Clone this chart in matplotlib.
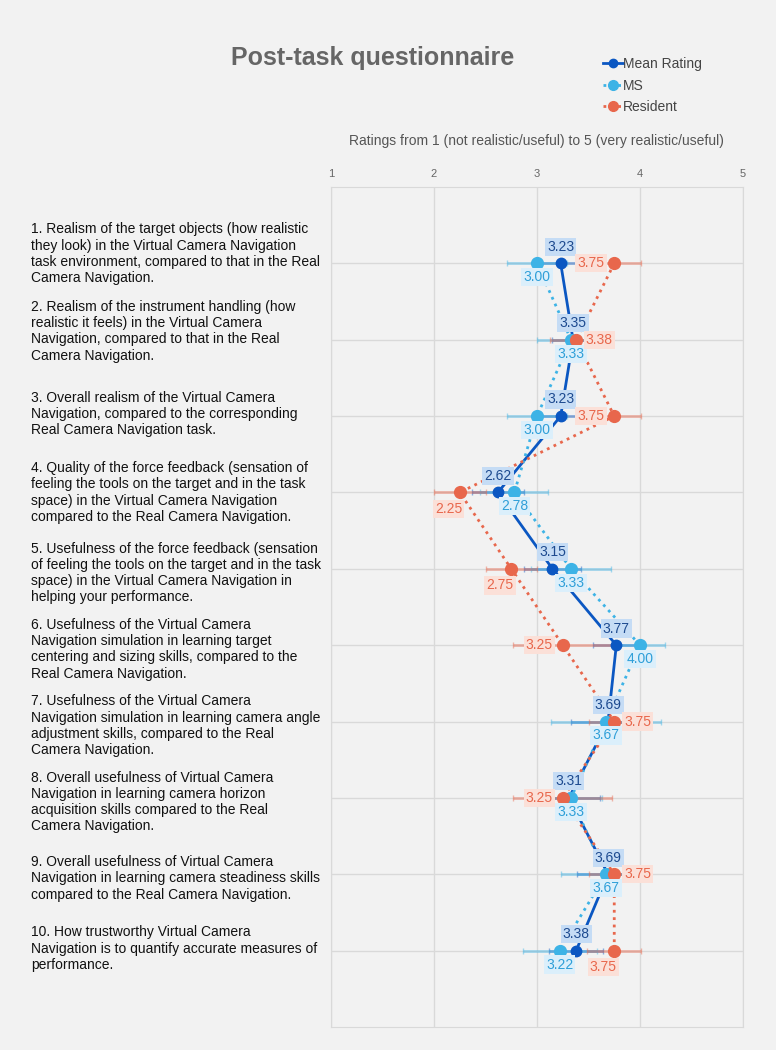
import numpy as np
import matplotlib.pyplot as plt
import matplotlib.transforms as mtransforms
from matplotlib.lines import Line2D

plt.rcParams['font.family'] = ['Liberation Sans', 'DejaVu Sans']

### Data
questions = [
    "1. Realism of the target objects (how realistic\nthey look) in the Virtual Camera Navigation\ntask environment, compared to that in the Real\nCamera Navigation.",
    "2. Realism of the instrument handling (how\nrealistic it feels) in the Virtual Camera\nNavigation, compared to that in the Real\nCamera Navigation.",
    "3. Overall realism of the Virtual Camera\nNavigation, compared to the corresponding\nReal Camera Navigation task.",
    "4. Quality of the force feedback (sensation of\nfeeling the tools on the target and in the task\nspace) in the Virtual Camera Navigation\ncompared to the Real Camera Navigation.",
    "5. Usefulness of the force feedback (sensation\nof feeling the tools on the target and in the task\nspace) in the Virtual Camera Navigation in\nhelping your performance.",
    "6. Usefulness of the Virtual Camera\nNavigation simulation in learning target\ncentering and sizing skills, compared to the\nReal Camera Navigation.",
    "7. Usefulness of the Virtual Camera\nNavigation simulation in learning camera angle\nadjustment skills, compared to the Real\nCamera Navigation.",
    "8. Overall usefulness of Virtual Camera\nNavigation in learning camera horizon\nacquisition skills compared to the Real\nCamera Navigation.",
    "9. Overall usefulness of Virtual Camera\nNavigation in learning camera steadiness skills\ncompared to the Real Camera Navigation.",
    "10. How trustworthy Virtual Camera\nNavigation is to quantify accurate measures of\nperformance.",
]
mean_rating = [3.23, 3.35, 3.23, 2.62, 3.15, 3.77, 3.69, 3.31, 3.69, 3.38]
ms = [3.00, 3.33, 3.00, 2.78, 3.33, 4.00, 3.67, 3.33, 3.67, 3.22]
resident = [3.75, 3.38, 3.75, 2.25, 2.75, 3.25, 3.75, 3.25, 3.75, 3.75]
mean_err = [0.20, 0.20, 0.20, 0.25, 0.28, 0.23, 0.36, 0.30, 0.30, 0.26]
ms_err = [0.29, 0.33, 0.29, 0.33, 0.39, 0.24, 0.53, 0.30, 0.44, 0.36]
res_err = [0.26, 0.25, 0.26, 0.25, 0.25, 0.48, 0.25, 0.48, 0.25, 0.26]

### Layout tweaks
# where the resident label goes: l = left, r = right, b = below
res_label_pos = ['l', 'r', 'l', 'b', 'b', 'l', 'r', 'l', 'r', 'b']
# vertical shift of each question block, in points (up is positive)
q_shift = [7, 6, 1.5, 0, -3, -3, -3, -3, -3, 1.5]

rows = np.arange(1, len(questions) + 1)

c_mean = '#0b57c2'
c_ms = '#3db3e6'
c_res = '#e8674c'
bg = '#f2f2f2'

fig = plt.figure(figsize=(7.76, 10.5), dpi=100, facecolor=bg)
ax = fig.add_axes([331/776, 1-1027/1050, 412/776, 840/1050], facecolor=bg)

ax.set_xlim(1, 5)
ax.set_ylim(11, 0)
ax.set_xticks([1, 2, 3, 4, 5])
ax.xaxis.tick_top()
ax.tick_params(axis='x', length=0, labelsize=8, labelcolor='#666666', pad=6)
ax.set_yticks(rows)
ax.set_yticklabels([])
ax.tick_params(axis='y', length=0)
ax.grid(True, color='#d9d9d9', lw=1)
ax.set_axisbelow(True)
for s in ax.spines.values():
    s.set_color('#d9d9d9')

# error bars
ax.errorbar(mean_rating, rows, xerr=mean_err, fmt='none', ecolor=c_mean, alpha=0.45, lw=2, capsize=2, zorder=2)
ax.errorbar(ms, rows, xerr=ms_err, fmt='none', ecolor=c_ms, alpha=0.45, lw=2, capsize=2, zorder=2)
ax.errorbar(resident, rows, xerr=res_err, fmt='none', ecolor=c_res, alpha=0.45, lw=2, capsize=2, zorder=2)

# series
ax.plot(mean_rating, rows, '-o', color=c_mean, lw=2, ms=7.5, zorder=4)
ax.plot(ms, rows, ':o', color=c_ms, lw=2, ms=8.5, zorder=5)
ax.plot(resident, rows, ':o', color=c_res, lw=2, ms=8.5, zorder=6)

# value labels
for i, r in enumerate(rows):
    ax.annotate(f'{mean_rating[i]:.2f}', (mean_rating[i], r), xytext=(0, 12), textcoords='offset points',
                ha='center', va='center', fontsize=10, color='#1d4a8f', zorder=8,
                bbox=dict(boxstyle='square,pad=0.15', fc='#c5dcf5', ec='none'))
    ax.annotate(f'{ms[i]:.2f}', (ms[i], r), xytext=(0, -10), textcoords='offset points',
                ha='center', va='center', fontsize=10, color='#2f9fd8', zorder=8,
                bbox=dict(boxstyle='square,pad=0.15', fc='#dbeffb', ec='none'))
    p = res_label_pos[i]
    if p == 'l':
        off, ha = (-7, 0), 'right'
    elif p == 'r':
        off, ha = (7, 0), 'left'
    else:
        off, ha = (-8, -12), 'center'
    ax.annotate(f'{resident[i]:.2f}', (resident[i], r), xytext=off, textcoords='offset points',
                ha=ha, va='center', fontsize=10, color=c_res, zorder=8,
                bbox=dict(boxstyle='square,pad=0.15', fc='#fbe0d8', ec='none'))

# questions on the left
trans = mtransforms.blended_transform_factory(fig.transFigure, ax.transData)
for q, r, dy in zip(questions, rows, q_shift):
    ax.annotate(q, (31/776, r), xycoords=trans, xytext=(0, dy), textcoords='offset points',
                ha='left', va='center', fontsize=10, color='#111111', linespacing=1.2)

fig.text(373/776, 1-58/1050, 'Post-task questionnaire', ha='center', va='center',
         fontsize=18, fontweight='bold', color='#666666')
fig.text(536/776, 1-141/1050, 'Ratings from 1 (not realistic/useful) to 5 (very realistic/useful)',
         ha='center', va='center', fontsize=10, color='#555555')

handles = [
    Line2D([], [], color=c_mean, ls='-', marker='o', lw=2, ms=6),
    Line2D([], [], color=c_ms, ls=':', marker='o', lw=2, ms=7),
    Line2D([], [], color=c_res, ls=':', marker='o', lw=2, ms=7),
]
fig.legend(handles, ['Mean Rating', 'MS', 'Resident'], loc='upper left',
           bbox_to_anchor=(590/776, 1-44.5/1050), frameon=False, fontsize=10,
           handlelength=1.45, handletextpad=0.05, labelspacing=0.55, labelcolor='#444444')

plt.savefig('out.png', dpi=100, facecolor=bg)
